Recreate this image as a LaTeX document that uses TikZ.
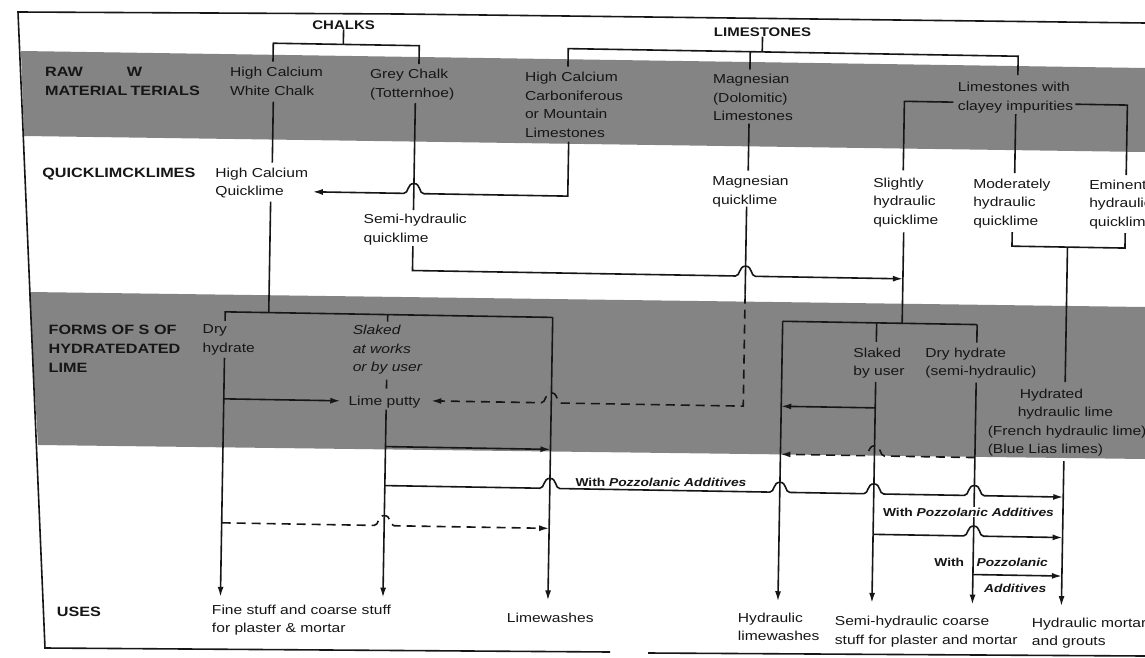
\documentclass[tikz,border=0pt]{standalone}
\usepackage{fontspec}
\setmainfont{Liberation Sans}[FakeStretch=1.2]
\usetikzlibrary{arrows.meta}
\definecolor{ink}{RGB}{22,22,22}
\definecolor{band}{RGB}{132,132,132}
% small bridge where a horizontal line jumps over a vertical one
\newcommand{\hopR}[2]{-- (#1-10,#2) .. controls (#1-5,#2) and (#1-7,#2-10) .. (#1,#2-10) .. controls (#1+7,#2-10) and (#1+5,#2) .. (#1+10,#2)}
\newcommand{\hopL}[2]{-- (#1+10,#2) .. controls (#1+5,#2) and (#1+7,#2-10) .. (#1,#2-10) .. controls (#1-7,#2-10) and (#1-5,#2) .. (#1-10,#2)}
\begin{document}
\begin{tikzpicture}[x=1pt,y=-1pt,
  ln/.style={draw=ink,line width=1.6pt},
  arr/.style={ln,-{Latex[length=10pt,width=6pt]}},
  dsh/.style={dash pattern=on 9pt off 6pt},
  txt/.style={anchor=north west,inner sep=0pt,align=left,text=ink,font=\fontsize{13}{18.5}\selectfont},
  row/.style={anchor=north west,inner sep=0pt,align=left,text=ink,font=\bfseries\fontsize{13.5}{19}\selectfont},
  grp/.style={inner sep=0pt,text=ink,font=\bfseries\fontsize{12.5}{15}\selectfont},
  pz/.style={inner sep=1pt,text=ink,font=\bfseries\fontsize{11.5}{14}\selectfont},
  edgeline/.style={draw=ink,line width=1.6pt}]
\useasboundingbox (0,0) rectangle (1145,658);
\clip (0,0) rectangle (1145,658);
\fill[white] (0,0) rectangle (1145,658);
% grey bands
\fill[band] (21,51) -- (1145,68) -- (1145,152) -- (24,136) -- cycle;
\fill[band] (29,292) -- (1145,307) -- (1145,459) -- (38,445) -- cycle;
% frame
\draw[edgeline] (1145,23) -- (400,14) -- (18,12) -- (45,648) -- (610,652);
\draw[edgeline] (648,653) -- (1145,656);

\begin{scope}[rotate=-0.97]
% row labels
\node[row] (rawlbl) at (46,66) {RAW\hspace{44pt}W\\MATERIAL\hspace{3pt}TERIALS};
\node[row] (qlbl) at (45,167) {QUICKLIMCKLIMES};
\node[row] (flbl) at (54,324) {FORMS OF S OF\\HYDRATEDATED\\LIME};
\node[row] (ulbl) at (67,606) {USES};
% group headings
\node[grp] (chalks) at (344,19) {CHALKS};
\node[grp] (limes) at (763,19) {LIMESTONES};
% raw materials
\node[txt] (hcw) at (231,63) {High Calcium\\White Chalk};
\node[txt] (grey) at (371,63) {Grey Chalk\\(Totternhoe)};
\node[txt] (hccl) at (526,63) {High Calcium\\Carboniferous\\or Mountain\\Limestones};
\node[txt] (magl) at (714,62) {Magnesian\\(Dolomitic)\\Limestones};
\node[txt] (clay) at (959,66) {Limestones with\\clayey impurities};
% quicklimes
\node[txt] (hcq) at (218,164) {High Calcium\\Quicklime};
\node[txt] (shq) at (367,208) {Semi-hydraulic\\quicklime};
\node[txt] (mq) at (715,164) {Magnesian\\quicklime};
\node[txt] (slq) at (876,163) {Slightly\\hydraulic\\quicklime};
\node[txt] (moq) at (976,162) {Moderately\\hydraulic\\quicklime};
\node[txt] (emq) at (1092,161) {Eminently\\hydraulic\\quicklime};
% hydrated limes
\node[txt] (dry) at (208,321) {Dry\\hydrate};
\node[txt,font=\itshape\fontsize{13}{18.5}\selectfont] (slw) at (358,319) {Slaked\\at works\\or by user};
\node[txt] (putty) at (355,390) {Lime putty};
\node[txt] (slu) at (859,333) {Slaked\\by user};
\node[txt] (dhs) at (931,332) {Dry hydrate\\(semi-hydraulic)};
\node[txt] (hhl) at (994,372) {\hspace*{32pt}Hydrated\\\hspace*{30pt}hydraulic lime\\(French hydraulic lime)\\(Blue Lias limes)};
% uses
\node[txt] (fine) at (222,601) {Fine stuff and coarse stuff\\for plaster \& mortar};
\node[txt] (limew) at (517,604) {Limewashes};
\node[txt] (hlw) at (748,600) {Hydraulic\\limewashes};
\node[txt] (shc) at (845,602) {Semi-hydraulic coarse\\stuff for plaster and mortar};
\node[txt] (hmg) at (1042,600) {Hydraulic mortars\\and grouts};

% raw material groups
\draw[ln] (274,57) -- (274,38.6) -- (420,38.6) -- (420,57);
\draw[ln] (chalks.south) -- (344,38.6);
\draw[ln] (569,57) -- (569,39) -- (1019,39) -- (1019,58);
\draw[ln] (751,39) -- (751,57);
\draw[ln] (limes.south) -- (763,39);

% raw materials to quicklimes
\draw[ln] (275,97) -- (275,158);
\draw[ln] (417,96) -- (417,203);
\draw[arr] (571,132) -- (571,186.5) \hopL{417}{186.5} -- (316,186.5);
\draw[ln] (751,111) -- (751,158);
\draw[ln] (906,155) -- (906,86) -- (955,86);
\draw[ln] (1077,86) -- (1129,86) -- (1129,156);
\draw[ln] (1017.5,97) -- (1017.5,156);

% quicklimes to hydrated forms
\draw[ln] (274,197) -- (274,308);
\draw[ln] (230.5,317) -- (230.5,308) -- (558,308);
\draw[ln] (393,308) -- (393,315);
\draw[arr] (558,308) -- (558,591);
\draw[arr] (417,239) -- (417,263.5) \hopR{750}{263.5} -- (907.5,263.5);
\draw[ln] (750,194) -- (750,282);
\draw[arr,dsh] (750,282) -- (750,393.5) \hopL{558}{393.5} -- (438,393.5);
\draw[ln] (907.5,217) -- (907.5,308);
\draw[ln] (788,308) -- (982.5,308);
\draw[ln] (882,308) -- (882,327);
\draw[ln] (982.5,308) -- (982.5,326);
\draw[ln] (1016,215) -- (1016,229) -- (1129,229) -- (1129,214);
\draw[ln] (1071.5,229) -- (1071.5,364);

% hydrated forms to uses
\draw[arr] (230.5,354) -- (230.5,593);
\draw[arr] (230.5,395) -- (347,395);
\draw[arr,dsh] (230.5,519) \hopR{393}{519} -- (558,519);
\draw[ln,dsh] (393,373) -- (393,386);
\draw[arr] (393,403) -- (393,591);
\draw[arr] (393,440) -- (558,440);
\draw[arr] (393,479) \hopR{558}{479} \hopR{788}{479} \hopR{882}{479} \hopR{982.5}{479} -- (1071.5,479);
\draw[arr] (788,308) -- (788,588);
\draw[arr] (882,367) -- (882,588);
\draw[arr] (882,393) -- (788,393);
\draw[arr] (982.5,366) -- (982.5,588);
\draw[arr,dsh] (982.5,441) \hopL{882}{441} -- (788,441);
\draw[arr] (882,519.5) \hopR{982.5}{519.5} -- (1071.5,519.5);
\draw[arr] (982.5,558) -- (1071.5,558);
\draw[arr] (1071.5,443) -- (1071.5,588);

% additive labels
\node[pz] (pz1) at (669,471) {With \textit{Pozzolanic Additives}};
\node[pz,fill=white] (pz2) at (977,495.5) {With \textit{Pozzolanic Additives}};
\node[pz] (pz3a) at (958.6,546) {With};
\node[pz] (pz3b) at (1021.6,545) {\textit{Pozzolanic}};
\node[pz] (pz3c) at (1025,571) {\textit{Additives}};
\end{scope}
\end{tikzpicture}
\end{document}
